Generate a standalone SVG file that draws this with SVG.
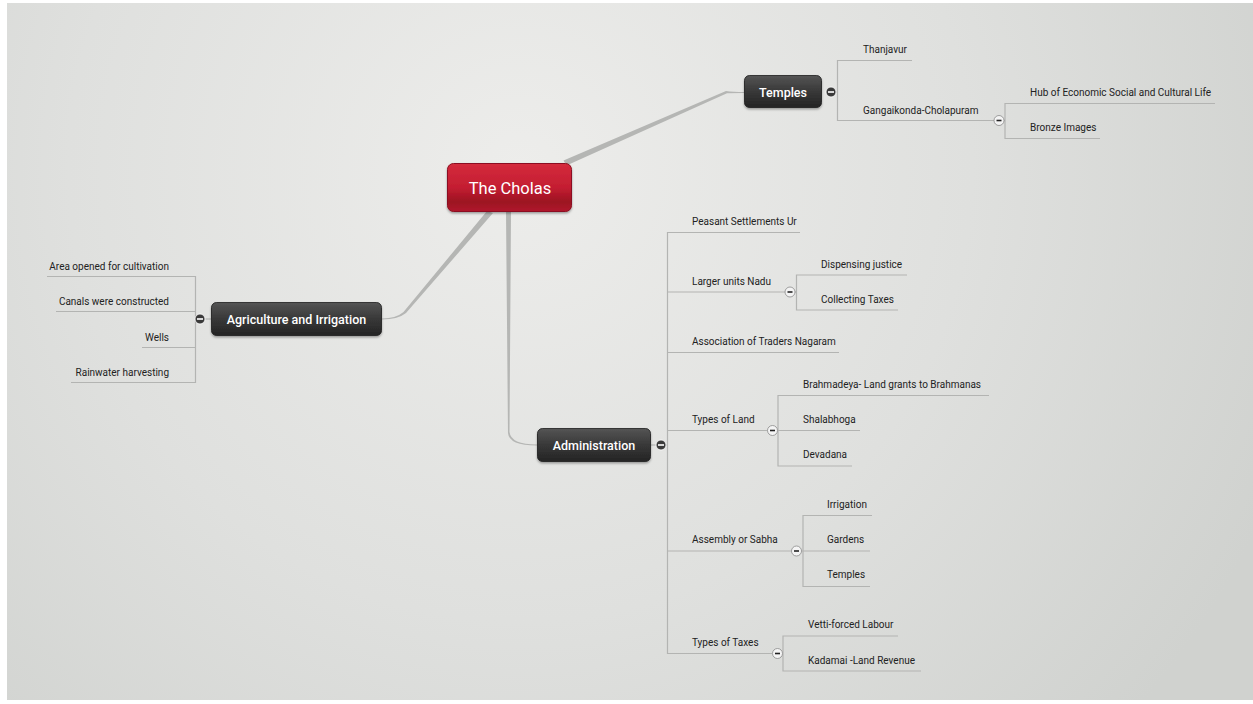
<svg xmlns="http://www.w3.org/2000/svg" width="1253" height="704" viewBox="0 0 1253 704">
<defs>
<radialGradient id="bg" cx="520" cy="170" r="820" gradientUnits="userSpaceOnUse">
<stop offset="0" stop-color="#ededeb"/>
<stop offset="0.55" stop-color="#dfe0de"/>
<stop offset="1" stop-color="#d0d2cf"/>
</radialGradient>
<linearGradient id="dark" x1="0" y1="0" x2="0" y2="1">
<stop offset="0" stop-color="#555555"/>
<stop offset="0.5" stop-color="#383838"/>
<stop offset="1" stop-color="#242424"/>
</linearGradient>
<linearGradient id="red" x1="0" y1="0" x2="0" y2="1">
<stop offset="0" stop-color="#d42a3c"/>
<stop offset="0.5" stop-color="#c41e32"/>
<stop offset="0.8" stop-color="#9c1222"/>
<stop offset="1" stop-color="#b01a2c"/>
</linearGradient>
<filter id="sh" x="-20%" y="-20%" width="140%" height="160%">
<feDropShadow dx="0" dy="1.5" stdDeviation="1.2" flood-color="#000" flood-opacity="0.35"/>
</filter>
</defs>
<style>
.nt{font-family:Roboto,"Liberation Sans",sans-serif;font-weight:500;fill:#ffffff;text-anchor:middle}
.nt.main{font-weight:400}
.lt{font-family:Roboto,"Liberation Sans",sans-serif;font-size:10px;fill:#222222}
.ln{stroke:#b3b4b2;stroke-width:1.2;fill:none}
.br{fill:#b5b6b4;stroke:none}
.cd{fill:#3a3a3a;stroke:#ffffff;stroke-width:0.8}
.cl{fill:#f4f4f4;stroke:#8a8a8a;stroke-width:0.8}
.md{stroke:#ffffff;stroke-width:1.6}
.ml{stroke:#222222;stroke-width:1.6}
.dn{fill:url(#dark);stroke:#1c1c1c;stroke-width:0.8}
</style>
<rect x="0" y="0" width="1253" height="704" fill="#ffffff"/>
<rect x="7" y="3" width="1246" height="697" fill="url(#bg)"/>

<g id="connectors">
<path class="br" d="M563.5,160.5 L726,91 Q733,92 744,92 L744,93 Q733,93 727,93.2 L566.5,165.5 Z"/>
<path class="br" d="M487,211 L493,213 L406,313 Q398,319.5 382,319.5 L382,318.5 Q396,318.5 403.5,312 Z"/>
<path class="br" d="M506,212 L511,212 L509.5,432 Q511,444.5 537,444.5 L537,445.5 Q509,445.5 508,433 Z"/>

<path class="ln" d="M837.5,92 L826,92"/>
<path class="ln" d="M912,60.5 L837.5,60.5 L837.5,120.5 L995,120.5"/>
<path class="ln" d="M1215,103.5 L1005,103.5 L1005,138.5 L1100,138.5"/>
<path class="ln" d="M999,120.5 L1005,120.5"/>

<path class="ln" d="M47,276.5 L195.5,276.5 L195.5,382.5 L71,382.5"/>
<path class="ln" d="M56,311.5 L195.5,311.5"/>
<path class="ln" d="M142,347.5 L195.5,347.5"/>
<path class="ln" d="M195.5,319 L211,319"/>

<path class="ln" d="M651,445 L667,445"/>
<path class="ln" d="M800,232.5 L667.5,232.5 L667.5,653.5 L772,653.5"/>
<path class="ln" d="M667.5,292 L786,292"/>
<path class="ln" d="M667.5,352.5 L839,352.5"/>
<path class="ln" d="M667.5,430.5 L768,430.5"/>
<path class="ln" d="M667.5,551 L792,551"/>
<path class="ln" d="M907,275 L796.5,275 L796.5,310 L898,310"/>
<path class="ln" d="M790,292 L796.5,292"/>
<path class="ln" d="M989,395.5 L778,395.5 L778,466 L852,466"/>
<path class="ln" d="M772,430.5 L860,430.5"/>
<path class="ln" d="M872,515.5 L803,515.5 L803,586.5 L870,586.5"/>
<path class="ln" d="M796,551 L870,551"/>
<path class="ln" d="M898,636 L783,636 L783,671 L921,671"/>
<path class="ln" d="M777,653.5 L783,653.5"/>
</g>

<g id="node-cholas">
<rect x="447.5" y="163.5" width="124" height="48" rx="6" fill="url(#red)" stroke="#8c1020" stroke-width="1" filter="url(#sh)"/>
<text class="nt main" x="510" y="194" font-size="16.5">The Cholas</text>
</g>

<g id="node-temples">
<rect class="dn" x="744.5" y="75.5" width="77" height="32" rx="5" filter="url(#sh)"/>
<text class="nt" x="783" y="96.5" font-size="12.5">Temples</text>
<circle class="cd" cx="831" cy="92" r="5"/>
<line class="md" x1="828" y1="92" x2="834" y2="92"/>
</g>
<g id="node-thanjavur"><text class="lt" x="863" y="52.5">Thanjavur</text></g>
<g id="node-gangaikonda">
<text class="lt" x="863" y="113.5">Gangaikonda-Cholapuram</text>
<circle class="cl" cx="999" cy="120.5" r="5"/>
<line class="ml" x1="996.5" y1="120.5" x2="1001.5" y2="120.5"/>
</g>
<g id="node-hub"><text class="lt" x="1030" y="95.5">Hub of Economic Social and Cultural Life</text></g>
<g id="node-bronze"><text class="lt" x="1030" y="131">Bronze Images</text></g>

<g id="node-agriculture">
<rect class="dn" x="211.5" y="302.5" width="170" height="33" rx="5" filter="url(#sh)"/>
<text class="nt" x="296.5" y="323.5" font-size="12.5">Agriculture and Irrigation</text>
<circle class="cd" cx="200" cy="319" r="5"/>
<line class="md" x1="197" y1="319" x2="203" y2="319"/>
</g>
<g id="node-area"><text class="lt" x="169" y="270" text-anchor="end">Area opened for cultivation</text></g>
<g id="node-canals"><text class="lt" x="169" y="305" text-anchor="end">Canals were constructed</text></g>
<g id="node-wells"><text class="lt" x="169" y="340.5" text-anchor="end">Wells</text></g>
<g id="node-rainwater"><text class="lt" x="169" y="375.5" text-anchor="end">Rainwater harvesting</text></g>

<g id="node-administration">
<rect class="dn" x="537.5" y="428.5" width="113" height="33" rx="5" filter="url(#sh)"/>
<text class="nt" x="594" y="449.5" font-size="12.5">Administration</text>
<circle class="cd" cx="661" cy="445" r="5"/>
<line class="md" x1="658" y1="445" x2="664" y2="445"/>
</g>
<g id="node-ur"><text class="lt" x="692" y="224.5">Peasant Settlements Ur</text></g>
<g id="node-nadu">
<text class="lt" x="692" y="285">Larger units Nadu</text>
<circle class="cl" cx="790" cy="292" r="5"/>
<line class="ml" x1="787.5" y1="292" x2="792.5" y2="292"/>
</g>
<g id="node-justice"><text class="lt" x="821" y="267.5">Dispensing justice</text></g>
<g id="node-collecting"><text class="lt" x="821" y="302.5">Collecting Taxes</text></g>
<g id="node-nagaram"><text class="lt" x="692" y="345">Association of Traders Nagaram</text></g>
<g id="node-land">
<text class="lt" x="692" y="422.5">Types of Land</text>
<circle class="cl" cx="772.5" cy="430.5" r="5"/>
<line class="ml" x1="770" y1="430.5" x2="775" y2="430.5"/>
</g>
<g id="node-brahmadeya"><text class="lt" x="803" y="387.5">Brahmadeya- Land grants to Brahmanas</text></g>
<g id="node-shalabhoga"><text class="lt" x="803" y="422.5">Shalabhoga</text></g>
<g id="node-devadana"><text class="lt" x="803" y="458">Devadana</text></g>
<g id="node-sabha">
<text class="lt" x="692" y="543">Assembly or Sabha</text>
<circle class="cl" cx="796.5" cy="551" r="5"/>
<line class="ml" x1="794" y1="551" x2="799" y2="551"/>
</g>
<g id="node-irrigation"><text class="lt" x="827" y="507.5">Irrigation</text></g>
<g id="node-gardens"><text class="lt" x="827" y="543">Gardens</text></g>
<g id="node-temples2"><text class="lt" x="827" y="578">Temples</text></g>
<g id="node-taxes">
<text class="lt" x="692" y="646">Types of Taxes</text>
<circle class="cl" cx="777.5" cy="653.5" r="5"/>
<line class="ml" x1="775" y1="653.5" x2="780" y2="653.5"/>
</g>
<g id="node-vetti"><text class="lt" x="808" y="628">Vetti-forced Labour</text></g>
<g id="node-kadamai"><text class="lt" x="808" y="663.5">Kadamai -Land Revenue</text></g>
</svg>
